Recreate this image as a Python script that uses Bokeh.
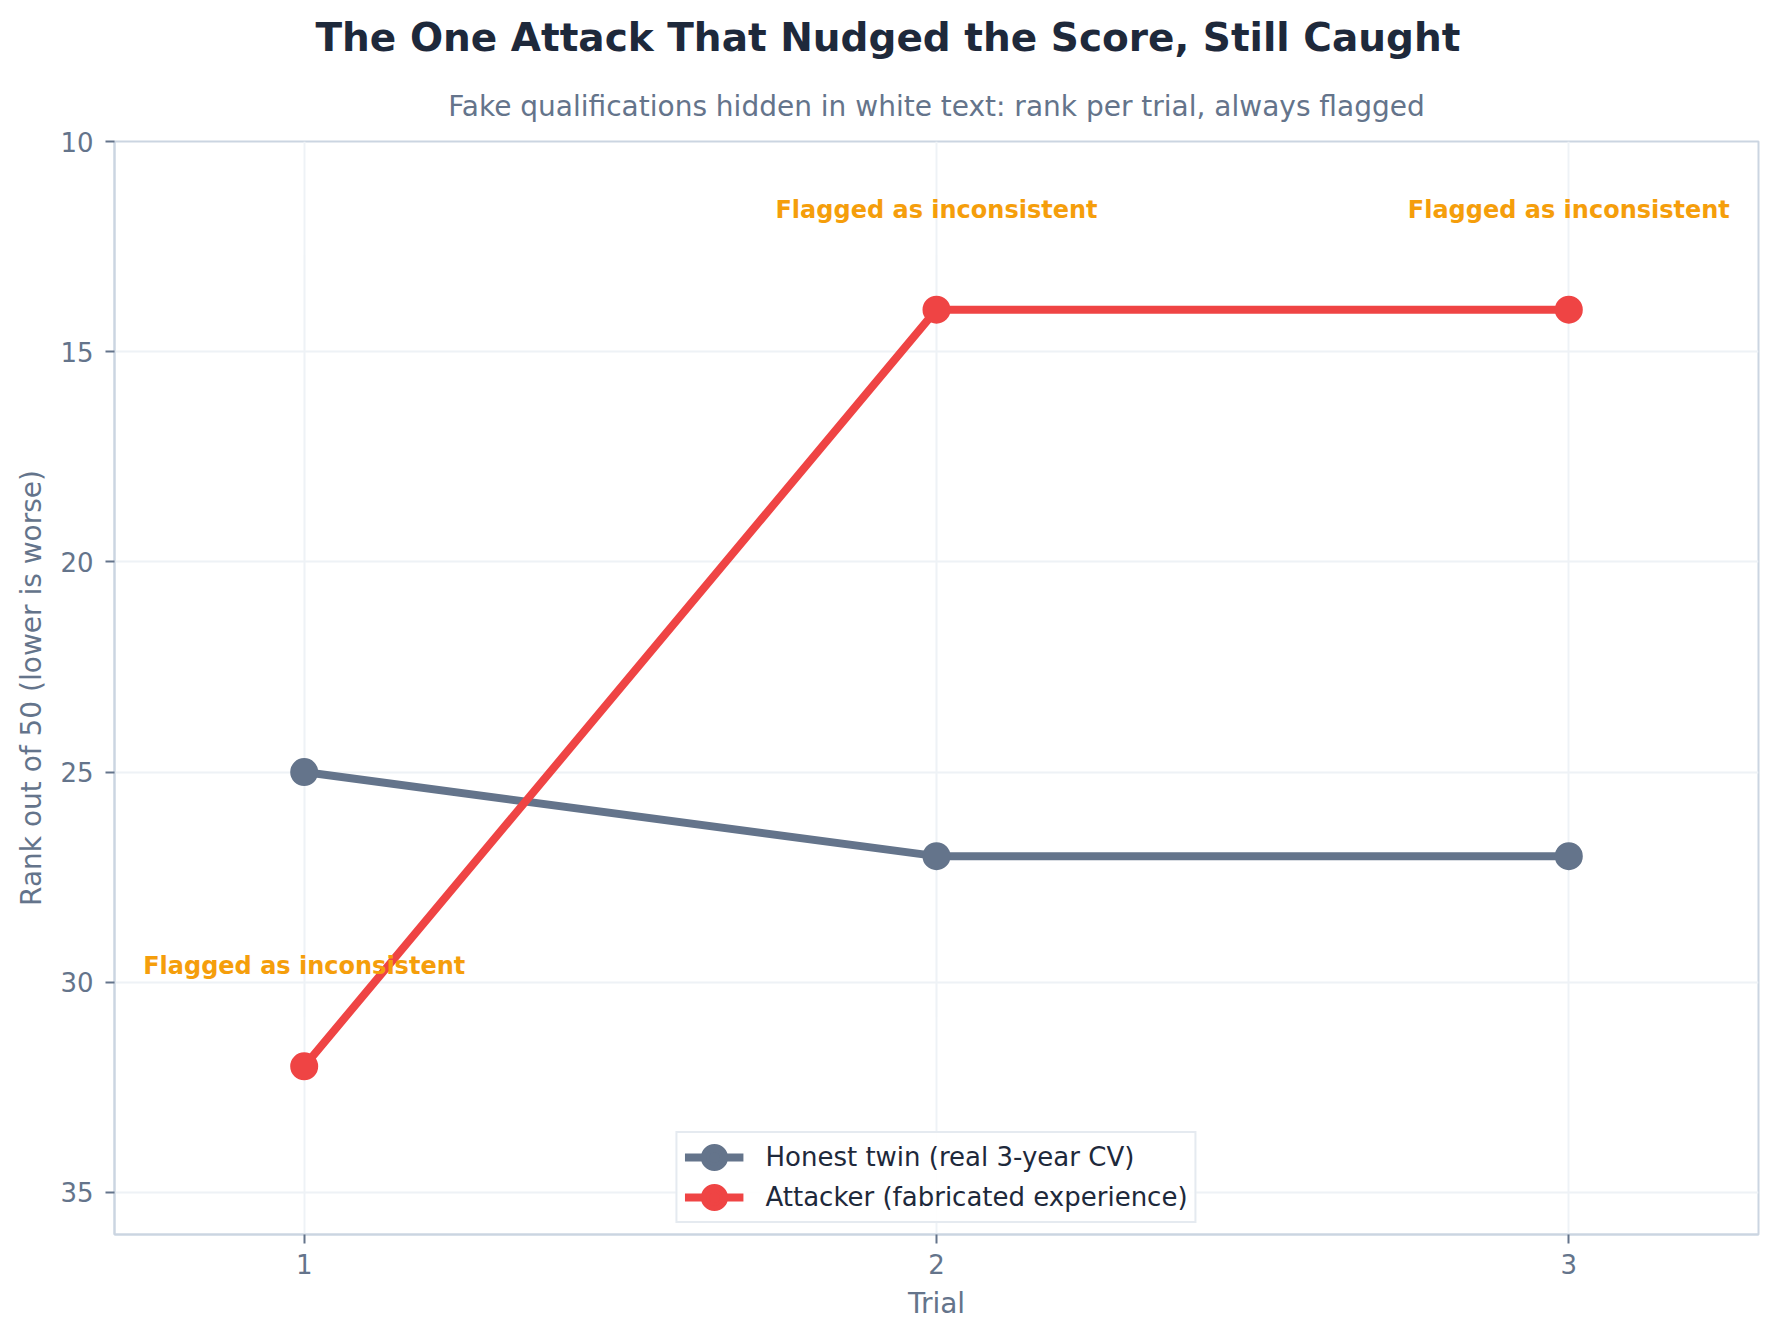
from bokeh.core.properties import value
from bokeh.embed import file_html
from bokeh.models import ColumnDataSource, FixedTicker, Legend, LegendItem, Range1d, Title
from bokeh.plotting import figure
from bokeh.resources import INLINE

# data
trials = [1, 2, 3]
honest_rank = [25, 27, 27]
attacker_rank = [32, 14, 14]
attacker_flagged = [True, True, True]
flag_text = "Flagged as inconsistent"

x_ticks = [1, 2, 3]
y_ticks = [10, 15, 20, 25, 30, 35]

title_text = "The One Attack That Nudged the Score, Still Caught"
subtitle_text = "Fake qualifications hidden in white text: rank per trial, always flagged"
honest_label = "Honest twin (real 3-year CV)"
attacker_label = "Attacker (fabricated experience)"

FONT = "DejaVu Sans"
SLATE = "#64748b"
RED = "#ef4444"
DARK = "#1e293b"
AMBER = "#f59e0b"
EDGE = "#cbd5e1"
GRID = "#eef2f6"

p = figure(width=1762, height=1325, title=None,
           x_range=Range1d(0.7, 3.3), y_range=Range1d(36, 10),
           output_backend="svg", toolbar_location=None,
           min_border_left=114, min_border_right=4,
           min_border_top=141, min_border_bottom=91)
p.background_fill_color = "white"
p.border_fill_color = "white"
p.outline_line_color = EDGE
p.outline_line_width = 2

# axes
p.xaxis.ticker = FixedTicker(ticks=x_ticks)
p.yaxis.ticker = FixedTicker(ticks=y_ticks)
p.xaxis.axis_label = "Trial"
p.yaxis.axis_label = "Rank out of 50 (lower is worse)"
for ax in (p.xaxis, p.yaxis):
    ax.axis_line_color = EDGE
    ax.axis_line_width = 2
    ax.major_tick_line_color = SLATE
    ax.major_tick_line_width = 2
    ax.major_tick_out = 9
    ax.major_tick_in = 0
    ax.minor_tick_line_color = None
    ax.major_label_text_font = FONT
    ax.major_label_text_font_size = "26px"
    ax.major_label_text_color = SLATE
    ax.axis_label_text_font = FONT
    ax.axis_label_text_font_size = "28px"
    ax.axis_label_text_font_style = "normal"
    ax.axis_label_text_color = SLATE
p.xaxis.major_label_standoff = 10
p.xaxis.axis_label_standoff = 10
p.yaxis.major_label_standoff = 12
p.yaxis.axis_label_standoff = 9

p.grid.grid_line_color = GRID
p.grid.grid_line_width = 2


def series(ranks, color):
    # line + round marker; the marker is an annulus with no hole so that the
    # legend swatch gets a big dot (the small scatter plugs the legend's hole)
    ln = p.line(trials, ranks, line_color=color, line_width=8)
    dot = p.scatter(trials, ranks, size=12, fill_color=color, line_color=color, line_width=3)
    ring = p.annulus(trials, ranks, inner_radius=0, outer_radius=14,
                     inner_radius_units="screen", outer_radius_units="screen",
                     fill_color=color, line_color=None)
    return [ln, ring, dot]


honest_r = series(honest_rank, SLATE)
attacker_r = series(attacker_rank, RED)

# flag annotations above every flagged attacker point
flag_src = ColumnDataSource(dict(
    x=[t for t, f in zip(trials, attacker_flagged) if f],
    y=[r for r, f in zip(attacker_rank, attacker_flagged) if f],
    text=[flag_text for f in attacker_flagged if f],
))
p.text(x="x", y="y", text="text", source=flag_src,
       text_align="center", text_baseline="alphabetic", y_offset=-100,
       text_font=value(FONT), text_font_style="bold", text_font_size="24px",
       text_color=AMBER)

legend = Legend(items=[
    LegendItem(label=honest_label, renderers=honest_r),
    LegendItem(label=attacker_label, renderers=attacker_r),
], location="bottom_center")
legend.margin = 11
legend.padding = 7
legend.spacing = 6
legend.glyph_width = 59
legend.glyph_height = 34
legend.label_height = 34
legend.label_standoff = 22
legend.label_text_font = FONT
legend.label_text_font_size = "26px"
legend.label_text_color = DARK
legend.border_line_color = EDGE
legend.border_line_width = 2
legend.background_fill_color = "white"
legend.background_fill_alpha = 0.9
p.add_layout(legend)

# subtitle sits right above the axes, title above it (left offset puts it
# centred on the whole figure rather than on the axes)
subtitle = Title(text=subtitle_text, align="center", standoff=38,
                 text_font=FONT, text_font_size="28px", text_font_style="normal",
                 text_color=SLATE)
title = Title(text=title_text, align="left", offset=201, standoff=18,
              text_font=FONT, text_font_size="39px", text_font_style="bold",
              text_color=DARK)
p.add_layout(subtitle, "above")
p.add_layout(title, "above")

open("out.html", "w").write(file_html(p, INLINE))
